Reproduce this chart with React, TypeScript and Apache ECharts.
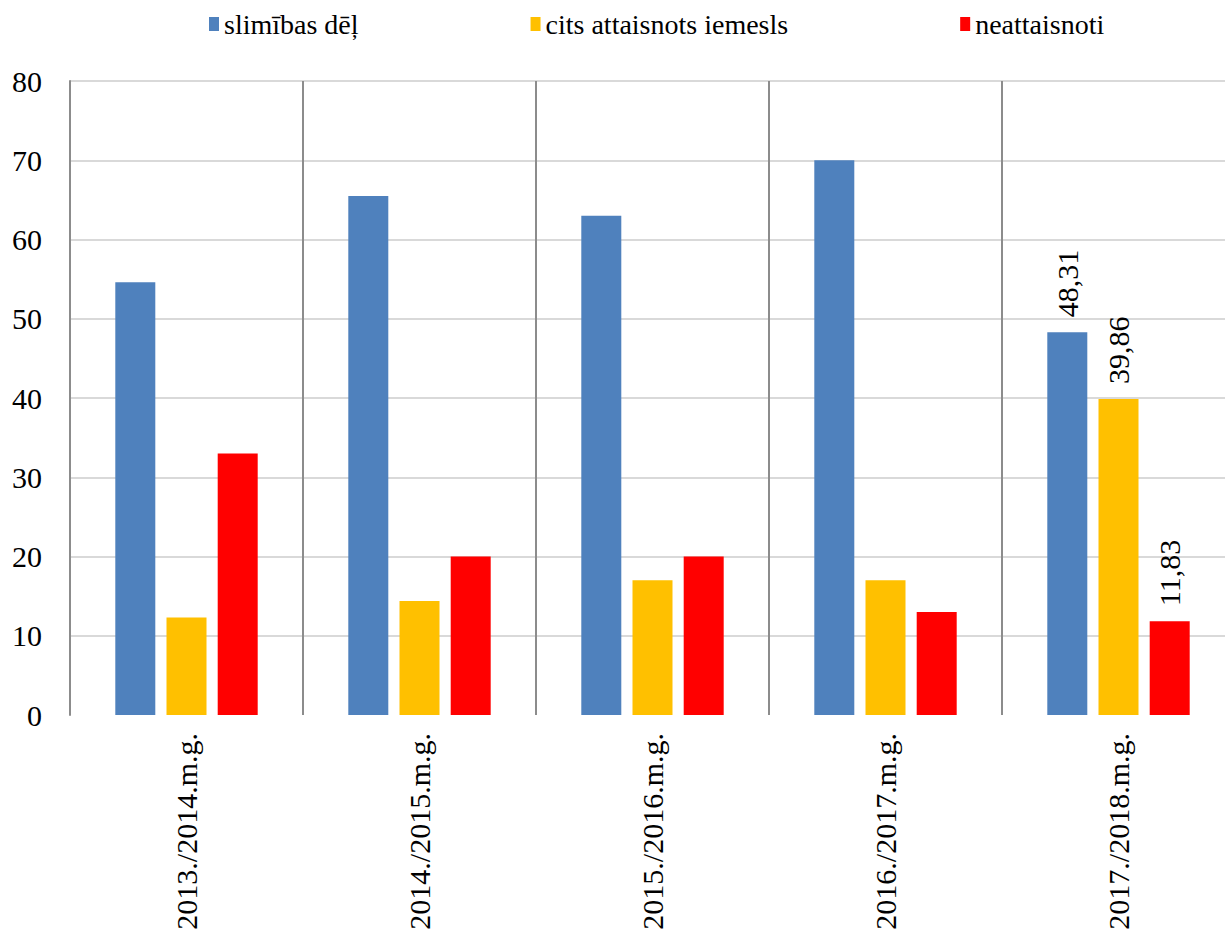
import React, { useEffect, useRef } from "react";
import * as echarts from "echarts";

const categories = ["2013./2014.m.g.", "2014./2015.m.g.", "2015./2016.m.g.", "2016./2017.m.g.", "2017./2018.m.g."];
const seriesNames = ["slimības dēļ", "cits attaisnots iemesls", "neattaisnoti"];
const illness = [54.6, 65.5, 63, 70, 48.31];
const otherJustified = [12.3, 14.4, 17, 17, 39.86];
const unjustified = [33, 20, 20, 13, 11.83];
const colors = ["#4F81BD", "#FFC000", "#FF0000"];
const labelledIndex = 4;

const FONT = "'Liberation Serif', 'Times New Roman', serif";

export default function App() {
  const ref = useRef<HTMLDivElement>(null);
  useEffect(() => {
    if (!ref.current) return;
    const chart = echarts.init(ref.current, undefined, { renderer: "svg" });
    const mk = (name: string, vals: number[], color: string) => ({
      name,
      type: "bar",
      barWidth: 40,
      barGap: "28%",
      itemStyle: { color },
      data: vals.map((v, i) => ({
        value: v,
        label: {
          show: i === labelledIndex,
          position: "top",
          rotate: 90,
          align: "left",
          verticalAlign: "middle",
          distance: 15,
          fontFamily: FONT,
          fontSize: 30,
          color: "#000",
          formatter: (p: any) => String(p.value).replace(".", ","),
        },
      })),
    });
    chart.setOption({
      animation: false,
      backgroundColor: "#fff",
      textStyle: { fontFamily: FONT },
      legend: {
        top: 5,
        left: 204,
        itemWidth: 10,
        itemHeight: 14,
        itemGap: 172,
        icon: "rect",
        textStyle: { fontFamily: FONT, fontSize: 28, color: "#000" },
        data: seriesNames,
      },
      grid: { left: 70, top: 81, right: 5, height: 634, containLabel: false },
      xAxis: {
        type: "category",
        data: categories,
        axisLine: { show: false },
        axisTick: { show: false },
        splitLine: { show: true, lineStyle: { color: "#8c8c8c", width: 2 } },
        axisLabel: {
          rotate: 90,
          margin: 18,
          fontFamily: FONT,
          fontSize: 30,
          color: "#000",
          interval: 0,
        },
      },
      yAxis: {
        type: "value",
        min: 0,
        max: 80,
        interval: 10,
        axisLine: { show: true, lineStyle: { color: "#8c8c8c", width: 2 } },
        axisTick: { show: false },
        splitLine: { show: true, showMinLine: false, lineStyle: { color: "#d9d9d9", width: 2 } },
        axisLabel: { margin: 28, fontFamily: FONT, fontSize: 30, color: "#000" },
      },
      series: [
        mk(seriesNames[0], illness, colors[0]),
        mk(seriesNames[1], otherJustified, colors[1]),
        mk(seriesNames[2], unjustified, colors[2]),
      ],
    });
    return () => chart.dispose();
  }, []);
  return <div ref={ref} style={{ position: "fixed", left: 0, top: 0, width: 1240, height: 952 }} />;
}
